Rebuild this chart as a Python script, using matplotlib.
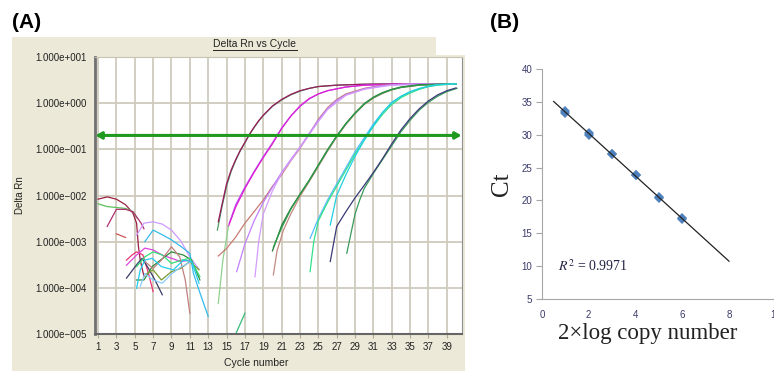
import numpy as np
import matplotlib
matplotlib.use('Agg')
import matplotlib.pyplot as plt
from matplotlib.patches import Rectangle
from matplotlib.lines import Line2D
from matplotlib.ticker import NullLocator

plt.rcParams['font.family'] = 'Liberation Sans'
plt.rcParams['mathtext.fontset'] = 'stix'

### Panel A: amplification plot, values are log10(Delta Rn)
amp_colors = ['#4f9a62', '#9a1a5e', '#b64cff', '#e020d0', '#8fd08f',
              '#c77b73', '#c080ff', '#d49cff',
              '#c48a80', '#1f7a2f', '#2f9a4a',
              '#55bbff', '#33e08a', '#1fd0e0',
              '#3a9a5a', '#3a3a78', '#33bb77']
amp_cycles = [
    [14.0, 14.5, 15, 15.5, 16, 16.5, 17, 17.5, 18, 18.5, 19, 20, 21, 22, 23, 24, 25, 27, 30, 34, 40],
    [14.1, 14.5, 15, 15.5, 16, 16.5, 17, 17.5, 18, 18.5, 19, 20, 21, 22, 23, 24, 25, 27, 30, 34, 40],
    [15.3, 16, 17, 18, 19, 20, 21, 22, 23, 24, 25, 26, 28, 30, 33, 36, 40],
    [15.2, 16, 17, 18, 19, 20, 21, 22, 23, 24, 25, 26, 28, 30, 33, 36, 40],
    [14.1, 14.6, 15.2],
    [14.1, 15, 16, 17, 18, 19, 20, 21, 22, 23, 24, 25, 26, 27, 28, 30, 32, 35, 40],
    [16.1, 17, 18, 19, 20, 21, 22, 23, 24, 25, 26, 27, 28, 30, 32, 35, 40],
    [18.1, 18.5, 19, 20, 21, 22, 23, 24, 25, 26, 28, 30, 33, 40],
    [20.1, 20.5, 21.2, 22, 23, 24, 25, 26, 27, 28, 29, 30, 31, 32, 33, 34, 36, 40],
    [20.0, 21, 22, 23, 24, 25, 26, 27, 28, 29, 30, 31, 32, 33, 34, 36, 40],
    [20.1, 21, 22, 23, 24, 25, 26, 27, 28, 29, 30, 31, 32, 33, 34, 36, 40],
    [24.1, 25, 26, 27, 28, 29, 30, 31, 32, 33, 34, 35, 36, 37, 38, 40],
    [24.1, 24.5, 25, 26, 27, 28, 29, 30, 31, 32, 33, 34, 35, 36, 37, 38, 40],
    [26.3, 27, 28, 29, 30, 31, 32, 33, 34, 35, 36, 37, 38, 40],
    [28.1, 29, 29.5, 30, 31, 32, 33, 34, 35, 36, 37, 38, 39, 40.1],
    [26.3, 27, 28, 29, 30, 31, 32, 33, 34, 35, 36, 37, 38, 39, 40],
    [16.0, 17.0],
]
amp_logs = [
    [-2.75, -2.25, -1.8, -1.48, -1.24, -1.03, -0.86, -0.68, -0.53, -0.39, -0.27, -0.07, 0.07, 0.18, 0.26, 0.32, 0.36, 0.39, 0.41, 0.42, 0.42],
    [-2.57, -2.2, -1.75, -1.45, -1.22, -1.02, -0.85, -0.67, -0.52, -0.38, -0.26, -0.06, 0.08, 0.19, 0.27, 0.32, 0.36, 0.39, 0.41, 0.42, 0.42],
    [-2.6, -2.2, -1.82, -1.48, -1.16, -0.86, -0.54, -0.28, -0.07, 0.09, 0.2, 0.27, 0.35, 0.39, 0.41, 0.42, 0.42],
    [-2.67, -2.25, -1.85, -1.5, -1.18, -0.88, -0.55, -0.28, -0.06, 0.1, 0.2, 0.27, 0.35, 0.39, 0.41, 0.42, 0.42],
    [-4.34, -3.4, -2.67],
    [-3.31, -3.15, -2.9, -2.6, -2.35, -2.1, -1.8, -1.55, -1.25, -0.98, -0.67, -0.35, -0.1, 0.08, 0.2, 0.32, 0.39, 0.42, 0.42],
    [-3.65, -3.05, -2.55, -2.15, -1.82, -1.5, -1.22, -0.95, -0.66, -0.37, -0.12, 0.06, 0.18, 0.31, 0.38, 0.42, 0.42],
    [-3.76, -3.0, -2.4, -1.9, -1.52, -1.24, -0.96, -0.68, -0.4, -0.14, 0.17, 0.3, 0.39, 0.42],
    [-3.72, -3.2, -2.75, -2.4, -2.02, -1.7, -1.37, -1.04, -0.73, -0.46, -0.23, -0.03, 0.11, 0.21, 0.29, 0.34, 0.39, 0.42],
    [-3.2, -2.65, -2.28, -1.97, -1.67, -1.34, -1.01, -0.71, -0.44, -0.21, -0.01, 0.13, 0.23, 0.3, 0.35, 0.4, 0.42],
    [-3.12, -2.7, -2.3, -1.98, -1.68, -1.35, -1.02, -0.72, -0.45, -0.22, -0.02, 0.12, 0.22, 0.29, 0.34, 0.39, 0.42],
    [-2.93, -2.5, -2.1, -1.75, -1.4, -1.05, -0.75, -0.45, -0.2, 0.0, 0.14, 0.24, 0.31, 0.36, 0.4, 0.42],
    [-3.65, -3.0, -2.55, -2.15, -1.8, -1.45, -1.1, -0.8, -0.5, -0.24, -0.03, 0.12, 0.22, 0.3, 0.36, 0.39, 0.42],
    [-2.64, -2.0, -1.55, -1.15, -0.8, -0.48, -0.2, 0.02, 0.15, 0.25, 0.32, 0.37, 0.4, 0.42],
    [-3.25, -2.4, -2.1, -1.85, -1.52, -1.22, -0.92, -0.62, -0.37, -0.15, 0.02, 0.15, 0.25, 0.32],
    [-3.43, -2.67, -2.35, -2.05, -1.78, -1.5, -1.2, -0.88, -0.58, -0.33, -0.12, 0.05, 0.18, 0.27, 0.33],
    [-5.0, -4.55],
]

### Baseline noise in the early cycles
base_colors = ['#9a2040', '#5cc05c', '#b03070', '#cc5555', '#cc99ff', '#33bbee',
               '#ee3377', '#3a3a6a', '#dd44dd', '#2f8a3a', '#7a9a30', '#33dd77',
               '#c08080', '#22ccee', '#88ccff']
base_cycles = [
    [1, 2, 3, 4, 4.8, 5.2, 5.4, 5.6, 6.0],
    [1, 2, 3, 4, 4.8, 5.3],
    [2, 3, 4, 4.8, 5.7, 6],
    [3, 4],
    [5.2, 6, 7, 8, 9, 10, 11, 12],
    [6.1, 7, 8, 9, 10, 11, 11.4, 12, 13],
    [4.1, 4.7, 5.2, 5.9, 6.5, 7],
    [4.1, 5.2, 5.8, 6.5, 7.2, 8],
    [4.1, 5.2, 6.1, 7, 8, 9, 10, 11],
    [5.2, 6, 6.9, 7.8, 9, 10.3, 11.2, 12.1],
    [6.1, 7, 7.9, 9, 10, 11, 12],
    [5.2, 6.1, 7, 8, 9, 10.1, 11, 12.1],
    [6.1, 7, 7.9, 9, 9.9, 10.5, 11],
    [5.2, 5.6, 6.1, 6.9, 7.9, 9.2, 10.3, 11.2, 12],
    [5.6, 6.1, 7, 8, 9, 10, 11],
]
base_logs = [
    [-2.08, -2.03, -2.08, -2.2, -2.38, -2.6, -3.1, -3.4, -3.75],
    [-2.18, -2.24, -2.26, -2.28, -2.35, -2.5],
    [-2.67, -2.3, -2.3, -2.35, -2.6, -2.72],
    [-2.83, -2.91],
    [-2.86, -2.6, -2.57, -2.62, -2.75, -2.98, -3.33, -3.6],
    [-3.0, -2.75, -2.85, -2.96, -3.1, -3.25, -3.69, -4.05, -4.62],
    [-3.4, -3.29, -3.22, -3.29, -3.69, -4.08],
    [-3.79, -3.5, -3.36, -3.58, -3.83, -4.15],
    [-3.51, -3.29, -3.14, -3.18, -3.29, -3.36, -3.43, -3.4],
    [-3.83, -3.83, -3.54, -3.4, -3.22, -3.29, -3.4, -3.83],
    [-3.72, -3.61, -3.83, -3.65, -3.58, -3.43, -3.61],
    [-3.54, -3.33, -3.22, -3.29, -3.47, -3.4, -3.36, -3.76],
    [-3.43, -3.58, -3.4, -3.11, -3.33, -3.83, -4.55],
    [-4.01, -3.61, -3.4, -3.36, -3.54, -3.61, -3.4, -3.43, -3.9],
    [-3.97, -3.69, -3.83, -3.9, -3.7, -3.55, -3.45],
]
threshold = 0.2
ytick_vals = [1e-5, 1e-4, 1e-3, 1e-2, 1e-1, 1, 10]
ytick_labels = ['1.000e\u2212005', '1.000e\u2212004', '1.000e\u2212003', '1.000e\u2212002',
                '1.000e\u2212001', '1.000e+000', '1.000e+001']

### Panel B: standard curve
log_copy = [1, 1, 2, 2, 3, 3, 4, 4, 5, 5, 6, 6]
ct_vals = [33.6, 33.3, 30.2, 29.9, 27.1, 27.0, 23.9, 23.8, 20.5, 20.3, 17.3, 17.1]
r2_text = r'$\mathit{R}^{2}$ = 0.9971'

W, H = 774, 371
fig = plt.figure(figsize=(W / 100, H / 100), dpi=100)
fig.patches.append(Rectangle((12 / W, 0), 453 / W, 334 / H, transform=fig.transFigure,
                             facecolor='#ece9d8', edgecolor='none', zorder=-10))
fig.patches.append(Rectangle((436 / W, 1 - 55 / H), 29 / W, 18 / H, transform=fig.transFigure,
                             facecolor='white', edgecolor='none', zorder=-5))

axA = fig.add_axes([95 / W, 1 - 334 / H, 367 / W, 277 / H])
axA.set_yscale('log')
for c, x, v in zip(base_colors, base_cycles, base_logs):
    axA.plot(x, 10 ** np.array(v), color=c, lw=0.9)
for c, x, v in zip(amp_colors, amp_cycles, amp_logs):
    axA.plot(x, 10 ** np.array(v), color=c, lw=0.9)
axA.annotate('', xy=(40.6, threshold), xytext=(0.72, threshold),
             arrowprops=dict(arrowstyle='<|-|>,head_length=0.35,head_width=0.2',
                             color='#1f9a1f', lw=2.2, shrinkA=0, shrinkB=0))
axA.set_xlim(0.67, 40.65)
axA.set_ylim(1e-5, 10)
axA.set_xticks(range(1, 40, 2))
axA.yaxis.set_minor_locator(NullLocator())
axA.set_yticks(ytick_vals)
axA.set_yticklabels(ytick_labels)
axA.grid(True, color='#cfcbbd', lw=1.3)
axA.set_axisbelow(True)
axA.tick_params(axis='y', length=0, pad=6, labelsize=7, labelcolor='#222222')
axA.tick_params(axis='x', length=3, color='#b0ab98', pad=3, labelsize=7, labelcolor='#222222')
axA.spines['left'].set_linewidth(2)
axA.spines['left'].set_color('#707070')
axA.spines['bottom'].set_linewidth(1.5)
axA.spines['bottom'].set_color('#666666')
axA.spines['right'].set_color('#909090')
axA.spines['top'].set_color('#c8c4b4')

t = fig.text(255 / W, 1 - 44 / H, 'Delta Rn vs Cycle', ha='center', va='center',
             fontsize=7.5, color='#222222')
fig.canvas.draw()
bb = t.get_window_extent().transformed(fig.transFigure.inverted())
fig.add_artist(Line2D([bb.x0, bb.x1], [bb.y0 - 0.002, bb.y0 - 0.002], color='#222222',
                      lw=0.7, transform=fig.transFigure))
fig.text(20 / W, 1 - 195 / H, 'Delta Rn', rotation=90, ha='center', va='center',
         fontsize=7, color='#222222')
fig.text(256 / W, 1 - 363 / H, 'Cycle number', ha='center', va='center',
         fontsize=7.5, color='#222222')
fig.text(12 / W, 1 - 22 / H, '(A)', fontsize=15, fontweight='bold', va='center')
fig.text(490 / W, 1 - 22 / H, '(B)', fontsize=15, fontweight='bold', va='center')

axB = fig.add_axes([542 / W, 1 - 299 / H, 233.75 / W, 230 / H])
axB.plot(log_copy, ct_vals, 'D', color='#4f81bd', markersize=5.5, markeredgewidth=0)
k, b = np.polyfit(log_copy, ct_vals, 1)
xl = np.array([0.5, 8.0])
axB.plot(xl, k * xl + b, color='#222222', lw=0.9)
axB.set_xlim(0, 10)
axB.set_ylim(5, 40)
axB.set_xticks(range(0, 11, 2))
axB.set_yticks(range(5, 41, 5))
for s in ['top', 'right']:
    axB.spines[s].set_visible(False)
for s in ['left', 'bottom']:
    axB.spines[s].set_color('#a6a6a6')
axB.tick_params(axis='y', length=4, color='#a6a6a6', labelsize=7, labelcolor='#3b3b6b', pad=3)
axB.tick_params(axis='x', length=0, labelsize=7, labelcolor='#3b3b6b', pad=8)
axB.text(0.7, 10, r2_text, fontsize=10, family='Liberation Serif', color='#222244', va='center')
fig.text(502 / W, 1 - 184 / H, 'Ct', rotation=90, ha='center', va='center',
         fontsize=18, family='Liberation Serif', color='#222222')
fig.text(648 / W, 1 - 333 / H, '2\u00d7log copy number', ha='center', va='center',
         fontsize=16.5, family='Liberation Serif', color='#222222')

fig.savefig('out.png', dpi=100)
